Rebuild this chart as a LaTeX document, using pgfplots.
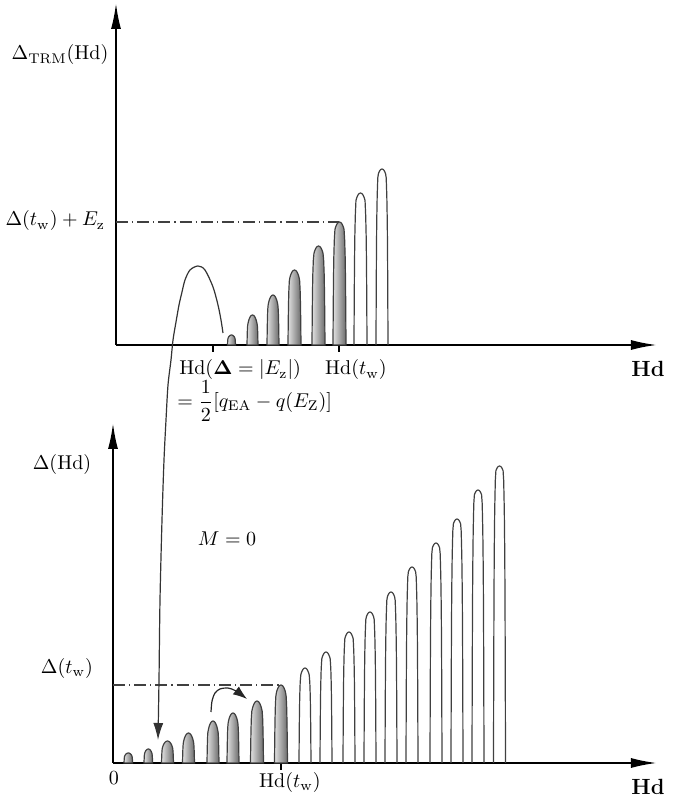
\documentclass[border=0pt]{standalone}
\usepackage{amsmath}
\usepackage{bm}
\usepackage{pgfplots}
\pgfplotsset{compat=1.18}
\usepackage{pgfplotstable}
\usetikzlibrary{arrows.meta}

% arch template: u = position across the arch (-1..1),
% v = side profile (fraction of height), b = cap drop (in half-widths)
\pgfplotstableread{
u v b
-1 0 4
-0.97 0.25 3.03
-0.93 0.5 2.53
-0.88 0.7 2.1
-0.8 0.85 1.6
-0.7 0.95 1.14
-0.6 1 0.8
-0.5 1 0.536
-0.35 1 0.253
-0.2 1 0.08
0 1 0
0.2 1 0.08
0.35 1 0.253
0.5 1 0.536
0.6 1 0.8
0.7 0.95 1.14
0.8 0.85 1.6
0.88 0.7 2.1
0.93 0.5 2.53
0.97 0.25 3.03
1 0 4
}\archtab

\pgfplotsset{
  filledarch/.style={draw=black!75, line width=0.6pt, left color=black!12, right color=black!58},
  openarch/.style={draw=black!75, line width=0.6pt, fill=none},
  panel/.style={
    axis lines=left, x=0.5pt, y=0.5pt, enlargelimits=false, clip=false,
    axis line style={line width=1pt, -{Latex[length=13pt,width=5pt]}},
    ytick=\empty, xticklabels={}, xtick align=outside,
    major tick length=3.5pt, tick style={black, line width=1pt},
    ymin=0,
  },
}
\newcommand{\archY}[2]{max(0, min(\thisrow{v}*#2, #2-\thisrow{b}*min(#1,#2/6)))}
\newcommand{\archF}[3]{\addplot[filledarch] table[x expr=\thisrow{u}*#2+#1, y expr={\archY{#2}{#3}}] {\archtab} \closedcycle;}
\newcommand{\archO}[3]{\addplot[openarch] table[x expr=\thisrow{u}*#2+#1, y expr={\archY{#2}{#3}}] {\archtab};}

\begin{document}
\begin{tikzpicture}
\path[use as bounding box] (0,0) rectangle (347.5pt,400pt);

% ---------------- top panel ----------------
\begin{axis}[panel, at={(58pt,227.5pt)}, anchor=south west,
  xmin=116, xmax=657, ymax=342, xtick={213,339}]
  \archF{231.5}{4}{10}
  \archF{252.5}{5.5}{30}
  \archF{273}{6}{50}
  \archF{294.5}{6.5}{75}
  \archF{318.5}{6.5}{99}
  \archF{339.5}{6.5}{123}
  \archO{360.5}{6.5}{152}
  \archO{382}{6}{176}
  \addplot[black!75, line width=0.6pt, dash pattern=on 6pt off 2pt on 0.6pt off 2pt]
    coordinates {(116,123) (339,123)};
  \node at (60,290) {$\Delta_{\mathrm{TRM}}(\mathrm{Hd})$};
  \node[anchor=east] at (112,124) {$\Delta(t_{\mathrm{w}})+E_{\mathrm{z}}$};
  \node[anchor=west, inner sep=0pt] at (179,-25) {$\mathrm{Hd}(\bm{\Delta}=|E_{\mathrm{z}}|)$};
  \node[anchor=west, inner sep=0pt] at (177,-56) {$=\dfrac{1}{2}[q_{\mathrm{EA}}-q(E_{\mathrm{Z}})]$};
  \node at (356,-25) {$\mathrm{Hd}(t_{\mathrm{w}})$};
  \node at (648,-24) {\fontsize{11}{13}\selectfont\bfseries Hd};
\end{axis}

% ---------------- bottom panel ----------------
\begin{axis}[panel, at={(56.5pt,18.5pt)}, anchor=south west,
  xmin=113, xmax=657, ymax=340, xtick={281}]
  \archF{128.3}{4.3}{10}
  \archF{148.3}{4.3}{14}
  \archF{167.5}{6}{22}
  \archF{188.5}{6}{30}
  \archF{213}{6}{42}
  \archF{233}{6}{50}
  \archF{257}{6.5}{62}
  \archF{281}{6.5}{78}
  \archO{305}{6}{95}
  \archO{326}{6}{111}
  \archO{349}{6}{131}
  \archO{370}{6}{151}
  \archO{391}{6}{171}
  \archO{412}{6}{196}
  \archO{436}{6}{220}
  \archO{457}{6}{244}
  \archO{478}{6}{273}
  \archO{499.5}{6}{297}
  \addplot[black!75, line width=0.6pt, dash pattern=on 6pt off 2pt on 0.6pt off 2pt]
    coordinates {(113,78) (281,78)};
  % big arch in top panel continuing as arrow into bottom panel
  \addplot[black!80, line width=0.6pt, smooth, tension=0.5, -{Latex[length=8.5pt,width=5pt]}]
    coordinates {(223,430) (221,443) (218,458) (213,476) (205,493) (198,497) (190,493)
      (185,483) (182,471) (179,458) (176,441) (173,423) (171,403) (168,378)
      (166,343) (164,303) (162,243) (160,163) (159,83) (158,23)};
  % small curved arrow
  \addplot[black!85, line width=0.6pt, smooth, -{Latex[length=7pt,width=5pt]}]
    coordinates {(211,51) (212,62) (215,70) (220,74) (228,75) (236,72) (247,64)};
  \node at (62,298) {$\Delta(\mathrm{Hd})$};
  \node[anchor=east] at (100,94) {$\Delta(t_{\mathrm{w}})$};
  \node at (227,224) {$M=0$};
  \node at (114,-15) {$0$};
  \node at (290,-20) {$\mathrm{Hd}(t_{\mathrm{w}})$};
  \node at (648,-24) {\fontsize{11}{13}\selectfont\bfseries Hd};
\end{axis}
\end{tikzpicture}
\end{document}
